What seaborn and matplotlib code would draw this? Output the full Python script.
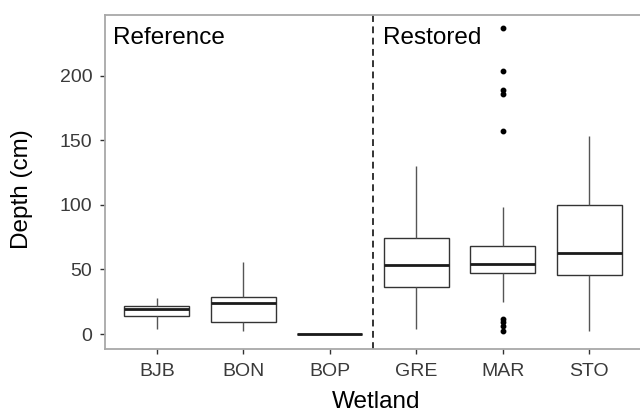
import numpy as np
import pandas as pd
import matplotlib
matplotlib.use("Agg")
import matplotlib.pyplot as plt
import seaborn as sns

# ---- data (box-plot summaries, cm) ----
wetlands = ["BJB", "BON", "BOP", "GRE", "MAR", "STO"]
whisker_low = [4.0, 2.0, 0.0, 4.0, 25.0, 2.5]
q1 = [14.0, 9.0, 0.0, 36.5, 47.5, 45.5]
median = [19.0, 24.0, 0.0, 53.5, 54.5, 62.5]
q3 = [22.0, 28.5, 0.0, 74.0, 68.5, 100.0]
whisker_high = [27.5, 56.0, 0.0, 130.0, 98.5, 153.0]
mar_outliers = [2.0, 6.0, 9.0, 12.0, 157.0, 186.0, 189.0, 204.0, 237.0]
group_labels = ["Reference", "Restored"]

# Build long-form data whose quartiles/whiskers reproduce the summaries
REP = 20
rows = []
for i, w in enumerate(wetlands):
    for v in (whisker_low[i], q1[i], median[i], q3[i], whisker_high[i]):
        rows += [(w, v)] * REP
    if w == "MAR":
        rows += [(w, v) for v in mar_outliers]
df = pd.DataFrame(rows, columns=["Wetland", "Depth"])

sns.set_style("white")
plt.rcParams["font.family"] = ["Liberation Sans", "DejaVu Sans"]

fig = plt.figure(figsize=(6.4, 4.16), dpi=100)
ax = fig.add_axes([105 / 640, 1 - 349 / 416, 536 / 640, (349 - 15) / 416])

sns.boxplot(
    data=df, x="Wetland", y="Depth", order=wetlands, ax=ax,
    width=0.75, color="white", linecolor="#333333", linewidth=1.0,
    showcaps=False,
    medianprops=dict(color="#1a1a1a", linewidth=2.0),
    whiskerprops=dict(color="#555555", linewidth=1.0),
    flierprops=dict(marker="o", markerfacecolor="black",
                    markeredgecolor="black", markersize=3.2),
)

# divider between reference and restored wetlands
ax.axvline(2.5, color="#333333", linewidth=1.4, linestyle=(0, (3.5, 2.3)))

ax.set_xlim(-0.6, 5.6)
ax.set_ylim(-11.6, 247)
ax.set_yticks([0, 50, 100, 150, 200])

ax.text(-0.51, 224.3, group_labels[0], fontsize=17.5, color="black", va="baseline", ha="left")
ax.text(2.61, 224.3, group_labels[1], fontsize=17.5, color="black", va="baseline", ha="left")

ax.set_xlabel("Wetland", fontsize=17.5, color="black")
ax.set_ylabel("Depth (cm)", fontsize=17.5, color="black")
ax.xaxis.set_label_coords(0.506, -0.127)
ax.yaxis.set_label_coords(-0.134, 0.48)

ax.tick_params(axis="both", which="major", length=3.6, width=1.0, color="#333333",
               labelsize=14, labelcolor="#3a3a3a")
ax.tick_params(axis="x", bottom=True, pad=6.5)
ax.tick_params(axis="y", left=True, pad=5.5)
for s in ax.spines.values():
    s.set_visible(True)
    s.set_color("#a8a8a8")
    s.set_linewidth(1.3)
ax.grid(False)

fig.savefig("out.png", dpi=100)
